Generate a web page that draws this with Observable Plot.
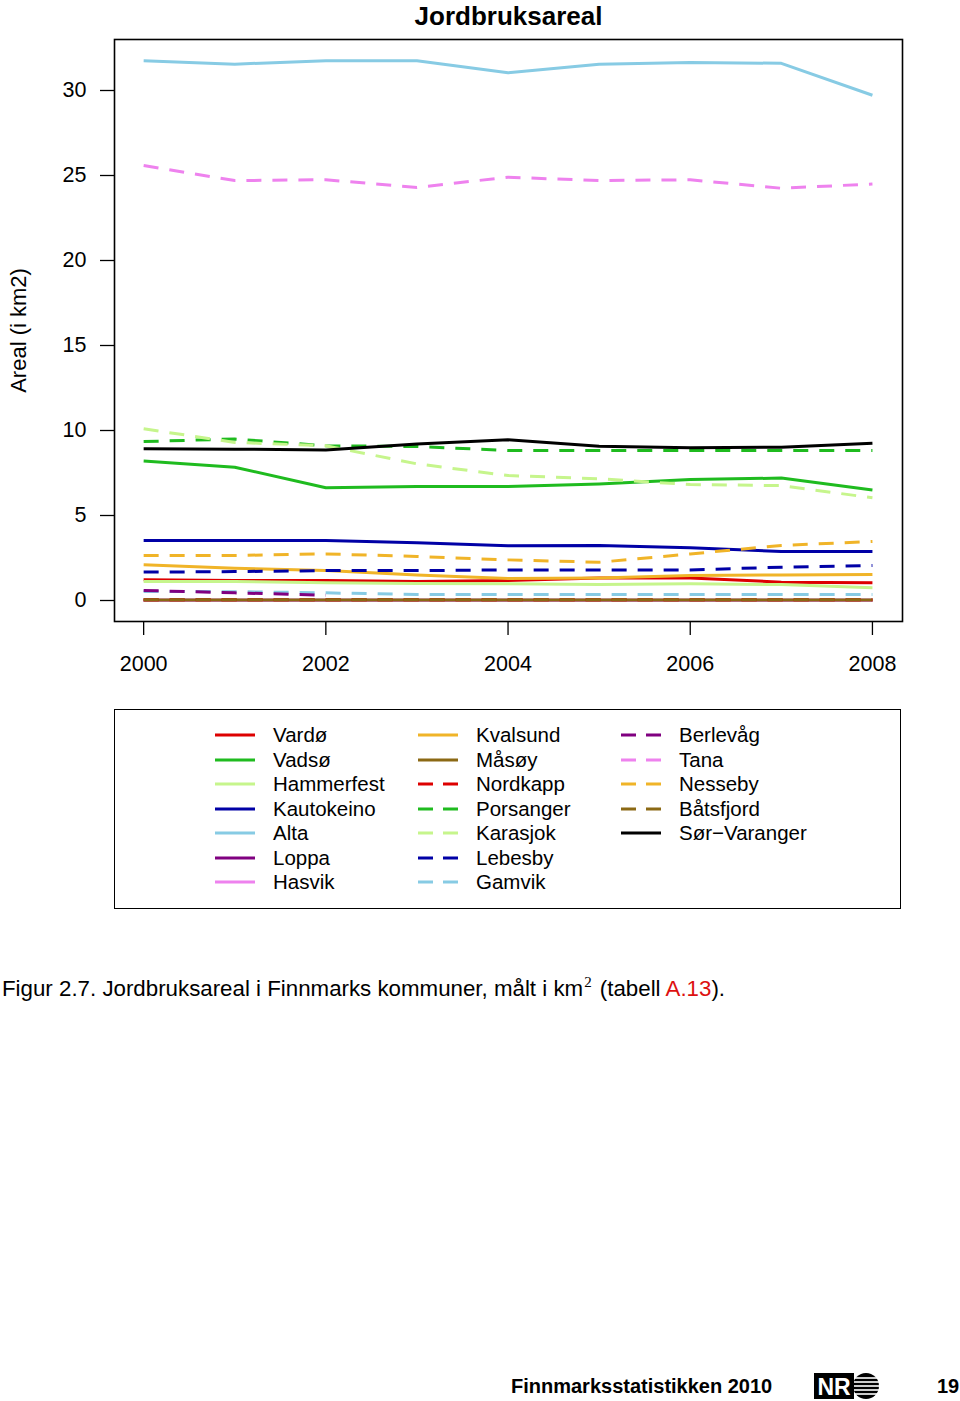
<!DOCTYPE html>
<html>
<head>
<meta charset="utf-8">
<script src="https://cdn.jsdelivr.net/npm/d3@7"></script>
<script src="https://cdn.jsdelivr.net/npm/@observablehq/plot@0.6"></script>
<style>
  html, body { margin: 0; padding: 0; background: #fff; }
  body { width: 960px; height: 1401px; position: relative; overflow: hidden;
         font-family: "Liberation Sans", Arial, Helvetica, sans-serif; color: #000; }
  #chart { position: absolute; left: 0; top: 0; }
  #legend { position: absolute; left: 114px; top: 709px; width: 785px; height: 198px;
            border: 1.5px solid #000; }
  .lg-item { position: absolute; font-size: 20.5px; line-height: 24px; white-space: nowrap; }
  .lg-item svg { position: absolute; left: 0; top: 6px; }
  .lg-item span { position: absolute; left: 58px; top: 0; }
  #caption { position: absolute; left: 2px; top: 976px; font-size: 22.3px; white-space: nowrap; }
  #caption sup { font-family: "Liberation Serif", "DejaVu Serif", serif; font-size: 15px; vertical-align: 0; position: relative; top: -9px; margin: 0 2px 0 1px; }
  #caption .ref { color: #dd1111; }
  #footer { position: absolute; left: 511px; top: 1375px; font-size: 20px; font-weight: bold; white-space: nowrap; }
  #logo { position: absolute; left: 814px; top: 1372px; }
  #page { position: absolute; left: 937px; top: 1375px; font-size: 20px; font-weight: bold; }
</style>
</head>
<body>
<div id="chart"></div>
<div id="legend"></div>
<div id="caption">Figur 2.7. Jordbruksareal i Finnmarks kommuner, målt i km<sup>2</sup> (tabell <span class="ref">A.13</span>).</div>
<div id="footer">Finnmarksstatistikken 2010</div>
<svg id="logo" width="68" height="28" viewBox="0 0 68 28">
  <rect x="0" y="1" width="40" height="26" fill="#000"/>
  <text x="20" y="23" text-anchor="middle" font-family="Liberation Sans, Arial, sans-serif" font-weight="bold" font-size="23" fill="#fff">NR</text>
  <circle cx="52" cy="14" r="13" fill="#000"/>
  <g stroke="#fff" stroke-width="1.6">
    <line x1="40" y1="6" x2="64" y2="6"/>
    <line x1="40" y1="10" x2="65" y2="10"/>
    <line x1="40" y1="14" x2="66" y2="14"/>
    <line x1="40" y1="18" x2="65" y2="18"/>
    <line x1="40" y1="22" x2="64" y2="22"/>
  </g>
</svg>
<div id="page">19</div>
<script>
// ---------- data ----------
const years = [2000, 2001, 2002, 2003, 2004, 2005, 2006, 2007, 2008];

const vardo       = [1.22, 1.18, 1.18, 1.12, 1.18, 1.33, 1.33, 1.08, 1.04];
const vadso       = [8.20, 7.84, 6.63, 6.70, 6.70, 6.86, 7.12, 7.20, 6.50];
const hammerfest  = [1.12, 1.12, 1.04, 1.00, 0.98, 0.94, 0.98, 0.94, 0.75];
const kautokeino  = [3.53, 3.53, 3.53, 3.39, 3.22, 3.24, 3.10, 2.88, 2.88];
const alta        = [31.75, 31.55, 31.75, 31.75, 31.04, 31.55, 31.65, 31.60, 29.72];
const loppa       = [0.02, 0.02, 0.02, 0.02, 0.02, 0.02, 0.02, 0.02, 0.02];
const hasvik      = [0.02, 0.02, 0.02, 0.02, 0.02, 0.02, 0.02, 0.02, 0.02];
const kvalsund    = [2.10, 1.90, 1.76, 1.50, 1.29, 1.33, 1.47, 1.50, 1.53];
const masoy       = [0.03, 0.03, 0.03, 0.03, 0.03, 0.03, 0.03, 0.03, 0.03];
const nordkapp    = [0.04, 0.04, 0.04, 0.04, 0.04, 0.04, 0.04, 0.04, 0.04];
const porsanger   = [9.35, 9.50, 9.10, 9.06, 8.82, 8.82, 8.82, 8.82, 8.82];
const karasjok    = [10.10, 9.30, 9.10, 8.04, 7.35, 7.16, 6.82, 6.76, 6.04];
const lebesby     = [1.67, 1.70, 1.76, 1.76, 1.80, 1.80, 1.80, 1.96, 2.06];
const gamvik      = [0.53, 0.52, 0.45, 0.35, 0.35, 0.35, 0.35, 0.35, 0.35];
const berlevag    = [0.59, 0.45, 0.31, null, null, null, null, null, null];
const tana        = [25.59, 24.70, 24.75, 24.30, 24.90, 24.70, 24.75, 24.25, 24.50];
const nesseby     = [2.65, 2.65, 2.74, 2.59, 2.39, 2.25, 2.74, 3.24, 3.47];
const batsfjord   = [0.04, 0.04, 0.04, 0.04, 0.04, 0.04, 0.04, 0.04, 0.04];
const sorVaranger = [8.92, 8.90, 8.86, 9.20, 9.45, 9.08, 8.98, 9.02, 9.25];

const names = ["Vardø", "Vadsø", "Hammerfest", "Kautokeino", "Alta", "Loppa", "Hasvik",
  "Kvalsund", "Måsøy", "Nordkapp", "Porsanger", "Karasjok", "Lebesby", "Gamvik",
  "Berlevåg", "Tana", "Nesseby", "Båtsfjord", "Sør−Varanger"];
const values = [vardo, vadso, hammerfest, kautokeino, alta, loppa, hasvik,
  kvalsund, masoy, nordkapp, porsanger, karasjok, lebesby, gamvik,
  berlevag, tana, nesseby, batsfjord, sorVaranger];

const yTicks = [0, 5, 10, 15, 20, 25, 30];
const xTicks = [2000, 2002, 2004, 2006, 2008];

// ---------- styles ----------
const colors = ["#dd0000", "#1fbb1f", "#c6f58c", "#0000a6", "#87cbe4", "#800080", "#ee82ee",
  "#f0b428", "#8b6914", "#dd0000", "#1fbb1f", "#c6f58c", "#0000a6", "#87cbe4",
  "#800080", "#ee82ee", "#f0b428", "#8b6914", "#000000"];
const dashed = [false, false, false, false, false, false, false,
  false, false, true, true, true, true, true,
  true, true, true, true, false];
const DASH = "15,11";

// ---------- table ----------
const rows = [];
names.forEach((name, i) => {
  years.forEach((yr, j) => {
    const v = values[i][j];
    rows.push({name, year: yr, value: v == null ? NaN : v});
  });
});

const lineMarks = names.map((name, i) =>
  Plot.line(rows.filter(d => d.name === name), {
    x: "year", y: "value",
    stroke: colors[i], strokeWidth: 3,
    strokeDasharray: dashed[i] ? DASH : null,
    strokeLinecap: "butt", strokeLinejoin: "round"
  })
);

const chart = Plot.plot({
  width: 960,
  height: 690,
  marginLeft: 114,
  marginRight: 58,
  marginTop: 39,
  marginBottom: 69,
  style: {fontFamily: "Liberation Sans, Arial, sans-serif", color: "#000", background: "#fff"},
  x: {domain: [1999.68, 2008.33]},
  y: {domain: [-1.235, 33.0]},
  marks: [
    ...lineMarks,
    Plot.frame({stroke: "#000", strokeWidth: 1.6}),
    Plot.axisY({ticks: yTicks, tickSize: 14, tickPadding: 14, fontSize: 21.5, label: null,
                tickFormat: d => String(d), strokeWidth: 1.3}),
    Plot.axisX({ticks: xTicks, tickSize: 14, tickPadding: 20, fontSize: 21.5, label: null,
                tickFormat: d => String(d), strokeWidth: 1.3}),
    Plot.text(["Areal (i km2)"], {frameAnchor: "left", dx: -96, rotate: -90,
                textAnchor: "middle", lineAnchor: "middle", fontSize: 22}),
    Plot.text(["Jordbruksareal"], {frameAnchor: "top", dy: -15, textAnchor: "middle",
                lineAnchor: "bottom", fontSize: 26, fontWeight: "bold"})
  ]
});
document.getElementById("chart").appendChild(chart);

// ---------- legend ----------
const legend = document.getElementById("legend");
const colX = [100, 303, 506];
const rowY = [15, 39.5, 64, 88.5, 113, 137.5, 162];
names.forEach((name, i) => {
  const col = Math.floor(i / 7), row = i % 7;
  const item = document.createElement("div");
  item.className = "lg-item";
  item.style.left = colX[col] + "px";
  item.style.top = (rowY[row] - 2) + "px";
  const dash = dashed[i] ? `stroke-dasharray="15,10"` : "";
  item.innerHTML = `<svg width="42" height="12"><line x1="0" y1="6" x2="40" y2="6" stroke="${colors[i]}" stroke-width="3" ${dash}/></svg><span>${name}</span>`;
  legend.appendChild(item);
});
</script>
</body>
</html>
